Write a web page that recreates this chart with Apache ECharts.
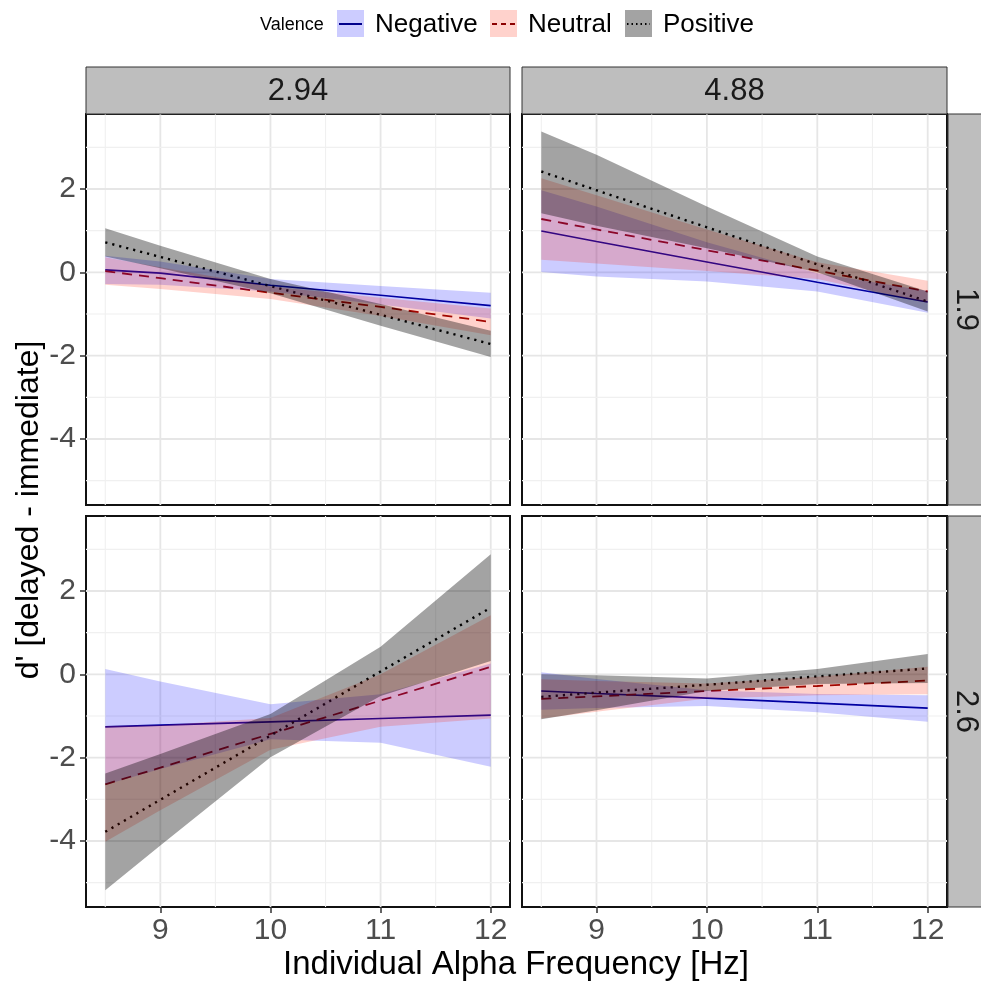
<!DOCTYPE html>
<html><head><meta charset="utf-8">
<script src="https://cdn.jsdelivr.net/npm/echarts@6/dist/echarts.min.js"></script>
<style>html,body{margin:0;padding:0;background:#fff}#chart{width:981px;height:981px}</style>
</head><body><div id="chart"></div>
<script>
// ---------- data (panel order: [top-left, top-right, bottom-left, bottom-right]) ----------
const colLabels = ['2.94', '4.88'];
const rowLabels = ['1.9', '2.6'];
const seriesNames = ['Negative', 'Neutral', 'Positive'];
const xValues = [8.5, 9, 10, 11, 12];
const xTicks = [9, 10, 11, 12];
const yTicks = [-4, -2, 0, 2];
const xMinorGrid = [8.5, 9.5, 10.5, 11.5];
const yMinorGrid = [-5, -3, -1, 1, 3];

const negFit   = [[0.06, -0.02, -0.31, -0.55, -0.80], [0.99, 0.74, 0.25, -0.24, -0.71], [-1.26, -1.22, -1.14, -1.06, -0.98], [-0.40, -0.46, -0.57, -0.69, -0.81]];
const negLower = [[-0.28, -0.30, -0.46, -0.77, -1.11], [0.01, -0.10, -0.22, -0.46, -0.97], [-2.65, -2.27, -1.56, -1.64, -2.22], [-0.85, -0.81, -0.76, -0.91, -1.14]];
const negUpper = [[0.40, 0.26, -0.16, -0.33, -0.49], [1.97, 1.58, 0.72, -0.02, -0.45], [0.13, -0.17, -0.72, -0.48, 0.26], [0.05, -0.11, -0.38, -0.47, -0.50]];

const neuFit   = [[0.03, -0.14, -0.49, -0.83, -1.19], [1.28, 1.03, 0.53, 0.04, -0.46], [-2.64, -2.24, -1.43, -0.63, 0.18], [-0.59, -0.53, -0.40, -0.28, -0.15]];
const neuLower = [[-0.30, -0.40, -0.64, -1.05, -1.51], [0.30, 0.21, 0.03, -0.16, -0.73], [-4.02, -3.26, -1.81, -1.26, -1.06], [-1.06, -0.90, -0.58, -0.50, -0.48]];
const neuUpper = [[0.36, 0.12, -0.34, -0.61, -0.87], [2.26, 1.85, 1.03, 0.24, -0.20], [-1.24, -1.22, -1.05, 0.00, 1.42], [-0.12, -0.16, -0.22, -0.06, 0.18]];

const posFit   = [[0.72, 0.37, -0.33, -1.02, -1.72], [2.42, 1.97, 1.08, 0.19, -0.70], [-3.78, -3.01, -1.47, 0.07, 1.60], [-0.54, -0.44, -0.25, -0.05, 0.14]];
const posLower = [[0.38, 0.10, -0.50, -1.28, -2.03], [1.42, 1.12, 0.58, 0.00, -0.94], [-5.18, -4.11, -1.99, -0.52, 0.32], [-1.08, -0.86, -0.40, -0.23, -0.21]];
const posUpper = [[1.06, 0.64, -0.16, -0.76, -1.40], [3.38, 2.82, 1.58, 0.38, -0.46], [-2.38, -1.91, -0.95, 0.66, 2.88], [0.00, -0.02, -0.10, 0.13, 0.49]];

// ---------- styling / layout ----------
const FONT = "'Liberation Sans', Arial, Helvetica, sans-serif";
const X_MIN = 8.325, X_MAX = 12.175, Y_MIN = -5.584, Y_MAX = 3.8;
const gridRects = [
  {left: 86, top: 114, width: 424, height: 391},
  {left: 522, top: 114, width: 425, height: 391},
  {left: 86, top: 516, width: 424, height: 391},
  {left: 522, top: 516, width: 425, height: 391}
];
const lineColors = ['#00008b', '#8b0000', '#000000'];
const lineTypes = ['solid', [10, 7], [2.2, 5]];
const lineWidths = [1.6, 1.8, 2.4];
const fillColors = ['rgba(0,0,255,0.2)', 'rgba(255,30,0,0.2)', 'rgba(0,0,0,0.36)'];
const fits = [negFit, neuFit, posFit];
const lowers = [negLower, neuLower, posLower];
const uppers = [negUpper, neuUpper, posUpper];

const chart = echarts.init(document.getElementById('chart'), null, {renderer: 'canvas'});

const grids = [], xAxes = [], yAxes = [], series = [];
gridRects.forEach((r, p) => {
  const isBottom = p >= 2, isLeft = p % 2 === 0;
  grids.push(Object.assign({show: true, borderColor: '#111', borderWidth: 2, backgroundColor: '#fff'}, r));
  xAxes.push({
    gridIndex: p, type: 'value', min: X_MIN, max: X_MAX, position: 'bottom',
    axisLine: {show: false, onZero: false}, splitLine: {show: false},
    axisTick: {show: isBottom, customValues: xTicks, length: 6, lineStyle: {color: '#333', width: 1.5}},
    axisLabel: {show: isBottom, customValues: xTicks, fontSize: 30, color: '#4d4d4d', margin: 9, fontFamily: FONT}
  });
  yAxes.push({
    gridIndex: p, type: 'value', min: Y_MIN, max: Y_MAX, position: 'left',
    axisLine: {show: false, onZero: false}, splitLine: {show: false},
    axisTick: {show: isLeft, customValues: yTicks, length: 6, lineStyle: {color: '#333', width: 1.5}},
    axisLabel: {show: isLeft, customValues: yTicks, fontSize: 30, color: '#4d4d4d', margin: 10, fontFamily: FONT}
  });
  // grid lines (major + minor) drawn through the axis scales
  const vLines = xTicks.map(v => [v, 1]).concat(xMinorGrid.map(v => [v, 0]));
  const hLines = yTicks.map(v => [v, 1]).concat(yMinorGrid.map(v => [v, 0]));
  series.push({
    type: 'custom', xAxisIndex: p, yAxisIndex: p, z: 1, silent: true, animation: false,
    data: vLines, encode: {x: 0},
    renderItem: (params, api) => {
      const v = api.value(0), major = api.value(1);
      const a = api.coord([v, Y_MIN]), b = api.coord([v, Y_MAX]);
      return {type: 'line', shape: {x1: a[0], y1: a[1], x2: b[0], y2: b[1]},
        style: {stroke: major ? '#e6e6e6' : '#f0f0f0', lineWidth: major ? 1.8 : 1.1}};
    }
  });
  series.push({
    type: 'custom', xAxisIndex: p, yAxisIndex: p, z: 1, silent: true, animation: false,
    data: hLines, encode: {y: 0},
    renderItem: (params, api) => {
      const v = api.value(0), major = api.value(1);
      const a = api.coord([X_MIN, v]), b = api.coord([X_MAX, v]);
      return {type: 'line', shape: {x1: a[0], y1: a[1], x2: b[0], y2: b[1]},
        style: {stroke: major ? '#e6e6e6' : '#f0f0f0', lineWidth: major ? 1.8 : 1.1}};
    }
  });
  // fitted lines (drawn beneath the ribbons)
  seriesNames.forEach((name, s) => {
    series.push({
      name: name, type: 'line', xAxisIndex: p, yAxisIndex: p, z: 2, animation: false,
      symbol: 'none', silent: true,
      data: xValues.map((x, i) => [x, fits[s][p][i]]),
      lineStyle: {color: lineColors[s], width: lineWidths[s], type: lineTypes[s]}
    });
  });
  // confidence ribbons
  seriesNames.forEach((name, s) => {
    const lo = lowers[s][p], hi = uppers[s][p];
    series.push({
      name: name, type: 'custom', xAxisIndex: p, yAxisIndex: p, z: 3, animation: false, silent: true,
      data: xValues.map((x, i) => [x, lo[i], hi[i]]), encode: {x: 0, y: [1, 2]},
      renderItem: (params, api) => {
        if (params.dataIndex !== 0) return null;
        const pts = [];
        for (let i = 0; i < xValues.length; i++) pts.push(api.coord([xValues[i], hi[i]]));
        for (let i = xValues.length - 1; i >= 0; i--) pts.push(api.coord([xValues[i], lo[i]]));
        return {type: 'polygon', shape: {points: pts}, style: {fill: fillColors[s], stroke: null}};
      }
    });
  });
});

// ---------- strips, titles, legend ----------
const graphic = [];
const txt = (x, y, text, size, color, rot) => ({
  type: 'text', x: x, y: y, rotation: rot || 0, z: 10,
  style: {text: text, fontSize: size, fontFamily: FONT, fill: color, align: 'center', verticalAlign: 'middle', textAlign: 'center', textVerticalAlign: 'middle'}
});
[0, 1].forEach(c => {
  const r = gridRects[c];
  graphic.push({type: 'rect', z: 5, shape: {x: r.left, y: 67, width: r.width, height: r.top - 67},
    style: {fill: '#bebebe', stroke: '#333', lineWidth: 1}});
  graphic.push(txt(r.left + r.width / 2, 91, colLabels[c], 31, '#1a1a1a'));
});
[0, 1].forEach(rw => {
  const r = gridRects[rw * 2 + 1];
  graphic.push({type: 'rect', z: 5, shape: {x: r.left + r.width + 1, y: r.top, width: 45, height: r.height},
    style: {fill: '#bebebe', stroke: '#333', lineWidth: 1}});
  graphic.push(txt(966, r.top + r.height / 2, rowLabels[rw], 31, '#1a1a1a', -Math.PI / 2));
});
graphic.push(txt(516, 965, 'Individual Alpha Frequency [Hz]', 33, '#000'));
graphic.push(txt(29, 510, "d' [delayed - immediate]", 32, '#000', Math.PI / 2));

// legend
graphic.push({type: 'text', x: 260, y: 25, z: 10, style: {text: 'Valence', fontSize: 18, fontFamily: FONT, fill: '#000', align: 'left', verticalAlign: 'middle'}});
const legendKeyX = [337, 490, 625];
const legendTextX = [375, 528, 663];
seriesNames.forEach((name, s) => {
  const kx = legendKeyX[s];
  graphic.push({type: 'rect', z: 10, shape: {x: kx, y: 10, width: 27, height: 27}, style: {fill: '#fff'}});
  graphic.push({type: 'rect', z: 11, shape: {x: kx, y: 10, width: 27, height: 27}, style: {fill: fillColors[s]}});
  graphic.push({type: 'line', z: 12, shape: {x1: kx + 2, y1: 24, x2: kx + 25, y2: 24},
    style: {stroke: lineColors[s], lineWidth: 2, lineDash: s === 0 ? null : (s === 1 ? [5, 4] : [1.5, 3])}});
  graphic.push({type: 'text', x: legendTextX[s], y: 25, z: 10, style: {text: name, fontSize: 26, fontFamily: FONT, fill: '#000', align: 'left', verticalAlign: 'middle'}});
});

chart.setOption({
  animation: false,
  backgroundColor: '#fff',
  grid: grids, xAxis: xAxes, yAxis: yAxes, series: series, graphic: graphic
});
</script></body></html>
